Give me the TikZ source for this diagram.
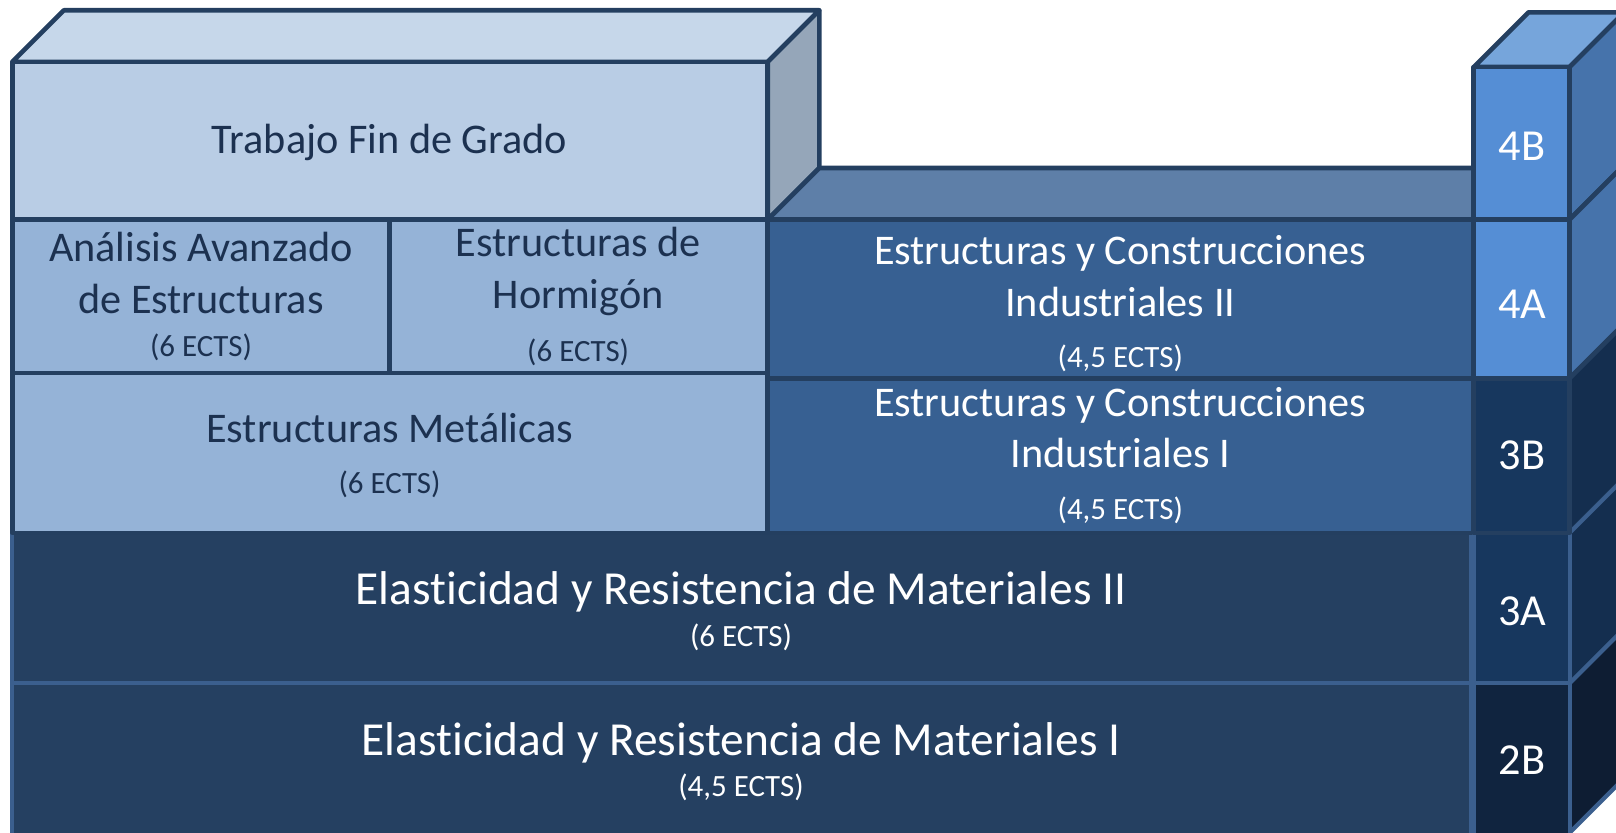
\documentclass[tikz,border=0pt]{standalone}
\usepackage{fontspec}
\setmainfont[Ligatures=NoCommon]{Carlito}
\definecolor{edge}{HTML}{243F60}
\definecolor{paleedge}{HTML}{3B5F8E}
\definecolor{tfgfront}{HTML}{B9CDE5}
\definecolor{tfgtop}{HTML}{C6D7EA}
\definecolor{tfgside}{HTML}{95A6B9}
\definecolor{lightbox}{HTML}{95B3D7}
\definecolor{midbox}{HTML}{376092}
\definecolor{midtop}{HTML}{5E7FA8}
\definecolor{darkbox}{HTML}{254061}
\definecolor{cellfour}{HTML}{558ED5}
\definecolor{cellfourtop}{HTML}{76A5DB}
\definecolor{cellfourside}{HTML}{4673AB}
\definecolor{cellthree}{HTML}{17375E}
\definecolor{cellthreeside}{HTML}{142E4F}
\definecolor{celltwo}{HTML}{10243F}
\definecolor{celltwoside}{HTML}{0E1D33}
\definecolor{navytext}{HTML}{1C3150}
\newcommand\mainsize{\fontsize{41}{50}\selectfont}
\newcommand\bigsize{\fontsize{46}{40}\selectfont}
\newcommand\ectssize{\fontsize{30}{40}\selectfont}
\begin{document}
\begin{tikzpicture}[x=1pt,y=-1pt,
	face/.style={draw=edge,line width=4.5pt,line join=round},
	paleface/.style={draw=paleedge,line width=4pt,line join=round},
	darklabel/.style={text=navytext,font=\mainsize,align=center},
	whitelabel/.style={text=white,font=\mainsize,align=center},
	biglabel/.style={text=white,font=\bigsize,align=center},
	semlabel/.style={text=white,font=\fontsize{43}{50}\selectfont}]
	\useasboundingbox (0,0) rectangle (1568,808);
	\clip (0,0) rectangle (1568,808);

	% Trabajo Fin de Grado block
	\draw[face,fill=tfgtop] (12,60) -- (62,10) -- (795,10) -- (745,60) -- cycle;
	\draw[face,fill=tfgside] (745,60) -- (795,10) -- (795,163) -- (745,213) -- cycle;
	\draw[face,fill=tfgfront] (12,60) rectangle (745,213);

	% top face of the right block
	\draw[face,fill=midtop] (745,213) -- (795,163) -- (1430,163) -- (1430,213) -- cycle;

	% bottom rows
	\draw[paleface,fill=darkbox] (12,517) rectangle (1427,663);
	\draw[paleface,fill=darkbox] (12,663) rectangle (1427,814);

	% light boxes
	\draw[face,fill=lightbox] (12,213) rectangle (378,362);
	\draw[face,fill=lightbox] (378,213) rectangle (745,362);
	\draw[face,fill=lightbox] (12,362) rectangle (745,517);

	% right blocks
	\draw[face,fill=midbox] (745,213) rectangle (1430,367);
	\draw[face,fill=midbox] (745,367) rectangle (1430,517);

	% semester column: top and side faces
	\draw[face,fill=cellfourtop] (1430,65) -- (1483,12) -- (1576,12) -- (1523,65) -- cycle;
	\draw[face,fill=cellfourside] (1523,65) -- (1576,12) -- (1576,160) -- (1523,213) -- cycle;
	\draw[face,fill=cellfourside] (1523,213) -- (1576,160) -- (1576,314) -- (1523,367) -- cycle;
	\draw[face,fill=cellthreeside] (1523,367) -- (1576,314) -- (1576,464) -- (1523,517) -- cycle;
	\draw[paleface,fill=cellthreeside] (1523,517) -- (1576,464) -- (1576,610) -- (1523,663) -- cycle;
	\draw[paleface,fill=celltwoside] (1523,663) -- (1576,610) -- (1576,755) -- (1523,808) -- cycle;

	% semester column: front cells
	\draw[face,fill=cellfour] (1430,65) rectangle (1523,213);
	\draw[face,fill=cellfour] (1430,213) rectangle (1523,367);
	\draw[paleface,fill=cellthree] (1430,517) rectangle (1523,663);
	\draw[face,fill=cellthree] (1430,367) rectangle (1523,517);
	\draw[paleface,fill=celltwo] (1430,663) rectangle (1523,814);

	% subject labels
	\node[darklabel] (tfg) at (378,138) {Trabajo Fin de Grado};
	\node[darklabel] (analisis) at (195,288) {Análisis Avanzado\\de Estructuras\\[-8pt]{\ectssize(6 ECTS)}};
	\node[darklabel] (hormigon) at (561,288) {Estructuras de\\Hormigón\\[2pt]{\ectssize(6 ECTS)}};
	\node[darklabel] (metalicas) at (378,442) {Estructuras Metálicas\\{\ectssize(6 ECTS)}};
	\node[whitelabel] (eci2) at (1087,295) {Estructuras y Construcciones\\Industriales II\\{\ectssize(4,5 ECTS)}};
	\node[whitelabel] (eci1) at (1087,442) {Estructuras y Construcciones\\Industriales I\\{\ectssize(4,5 ECTS)}};
	\node[biglabel] (erm2) at (719,593) {Elasticidad y Resistencia de Materiales II\\{\ectssize(6 ECTS)}};
	\node[biglabel] (erm1) at (719,739) {Elasticidad y Resistencia de Materiales I\\{\ectssize(4,5 ECTS)}};

	% semester labels
	\node[semlabel] (s4b) at (1477,142) {4B};
	\node[semlabel] (s4a) at (1477,295) {4A};
	\node[semlabel] (s3b) at (1477,442) {3B};
	\node[semlabel] (s3a) at (1477,593) {3A};
	\node[semlabel] (s2b) at (1477,738) {2B};
\end{tikzpicture}
\end{document}
